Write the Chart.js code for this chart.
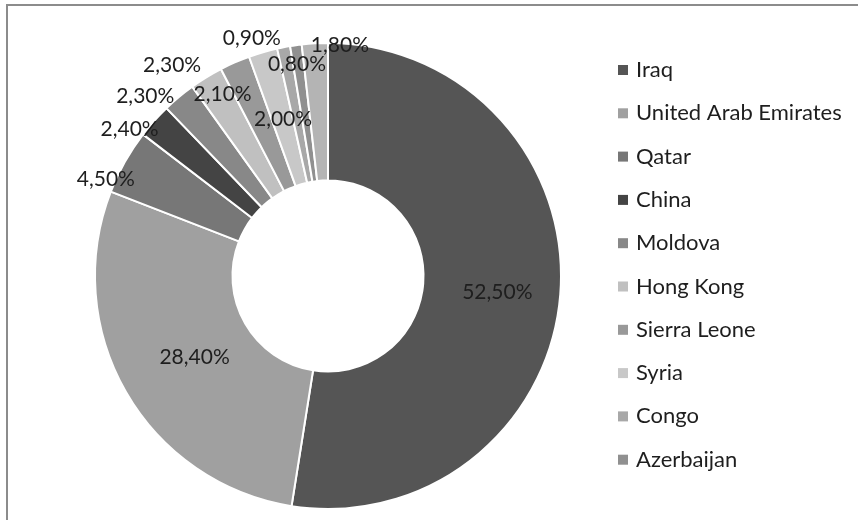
<!DOCTYPE html>
<html>
<head>
<meta charset="utf-8">
<script src="https://cdn.jsdelivr.net/npm/chart.js@4.4.1/dist/chart.umd.min.js"></script>
<style>
  html, body { margin: 0; padding: 0; background: #fff; }
  #wrap { width: 858px; height: 520px; position: relative; overflow: hidden; }
</style>
</head>
<body>
<div id="wrap"><canvas id="chart" width="858" height="520"></canvas></div>
<script>
// --- DATA ---
const countries = ['Iraq', 'United Arab Emirates', 'Qatar', 'China', 'Moldova', 'Hong Kong', 'Sierra Leone', 'Syria', 'Congo', 'Azerbaijan', 'Other'];
const shares = [52.5, 28.4, 4.5, 2.4, 2.3, 2.3, 2.1, 2.0, 0.9, 0.8, 1.8];
const legendCount = 10; // last slice has no legend entry in the original

const sliceColors = ['#555555', '#a0a0a0', '#777777', '#444444', '#888888', '#c0c0c0', '#999999', '#c8c8c8', '#a8a8a8', '#909090', '#b4b4b4'];

// label placement: radius as fraction of outer radius, shift from mid-angle in degrees
const labelRadius = [0.73, 0.67, 1.04, 1.06, 1.10, 1.125, 0.90, 0.70, 1.07, 0.92, 0.99];
const labelShift = [0.9, -1.4, -5.8, -5.2, -5.7, -5.0, -6.6, 0.2, -6.8, -0.4, 6.2];

const LEGEND_FONT = '22px Lato';
const LABEL_FONT = '21px Lato';
const TEXT_COLOR = '#1e1e1e';

function formatPct(v) {
    return v.toFixed(2).replace('.', ',') + '%';
}

// --- PLUGINS ---
const framePlugin = {
    id: 'frame',
    beforeDraw(chart) {
        const ctx = chart.ctx;
        ctx.save();
        ctx.strokeStyle = '#8c8c8c';
        ctx.lineWidth = 2;
        ctx.beginPath();
        ctx.moveTo(7, 520);
        ctx.lineTo(7, 5);
        ctx.lineTo(858, 5);
        ctx.stroke();
        ctx.restore();
    }
};

const sliceLabels = {
    id: 'sliceLabels',
    afterDatasetsDraw(chart) {
        const ctx = chart.ctx;
        const arcs = chart.getDatasetMeta(0).data;
        ctx.save();
        ctx.font = LABEL_FONT;
        ctx.fillStyle = TEXT_COLOR;
        ctx.textAlign = 'center';
        ctx.textBaseline = 'middle';
        arcs.forEach((arc, i) => {
            const p = arc.getProps(['x', 'y', 'startAngle', 'endAngle', 'outerRadius'], true);
            const a = (p.startAngle + p.endAngle) / 2 + labelShift[i] * Math.PI / 180;
            const r = p.outerRadius * labelRadius[i];
            ctx.fillText(formatPct(shares[i]), p.x + r * Math.cos(a), p.y + r * Math.sin(a));
        });
        ctx.restore();
    }
};

const sideLegend = {
    id: 'sideLegend',
    afterDraw(chart) {
        const ctx = chart.ctx;
        const colors = chart.data.datasets[0].backgroundColor;
        ctx.save();
        ctx.font = LEGEND_FONT;
        ctx.textBaseline = 'middle';
        ctx.textAlign = 'left';
        for (let i = 0; i < legendCount; i++) {
            const y = 70 + i * 43.3;
            ctx.fillStyle = colors[i];
            ctx.fillRect(618, y - 5, 10, 10);
            ctx.fillStyle = TEXT_COLOR;
            ctx.fillText(chart.data.labels[i], 636, y);
        }
        ctx.restore();
    }
};

// --- CHART ---
new Chart(document.getElementById('chart'), {
    type: 'doughnut',
    data: {
        labels: countries,
        datasets: [{
            data: shares,
            backgroundColor: sliceColors,
            borderColor: '#ffffff',
            borderWidth: 2
        }]
    },
    options: {
        responsive: false,
        animation: false,
        devicePixelRatio: 1,
        cutout: '41%',
        layout: { padding: { top: 42, bottom: 10, left: 94, right: 296 } },
        plugins: {
            legend: { display: false },
            tooltip: { enabled: false }
        }
    },
    plugins: [framePlugin, sliceLabels, sideLegend]
});
</script>
</body>
</html>
